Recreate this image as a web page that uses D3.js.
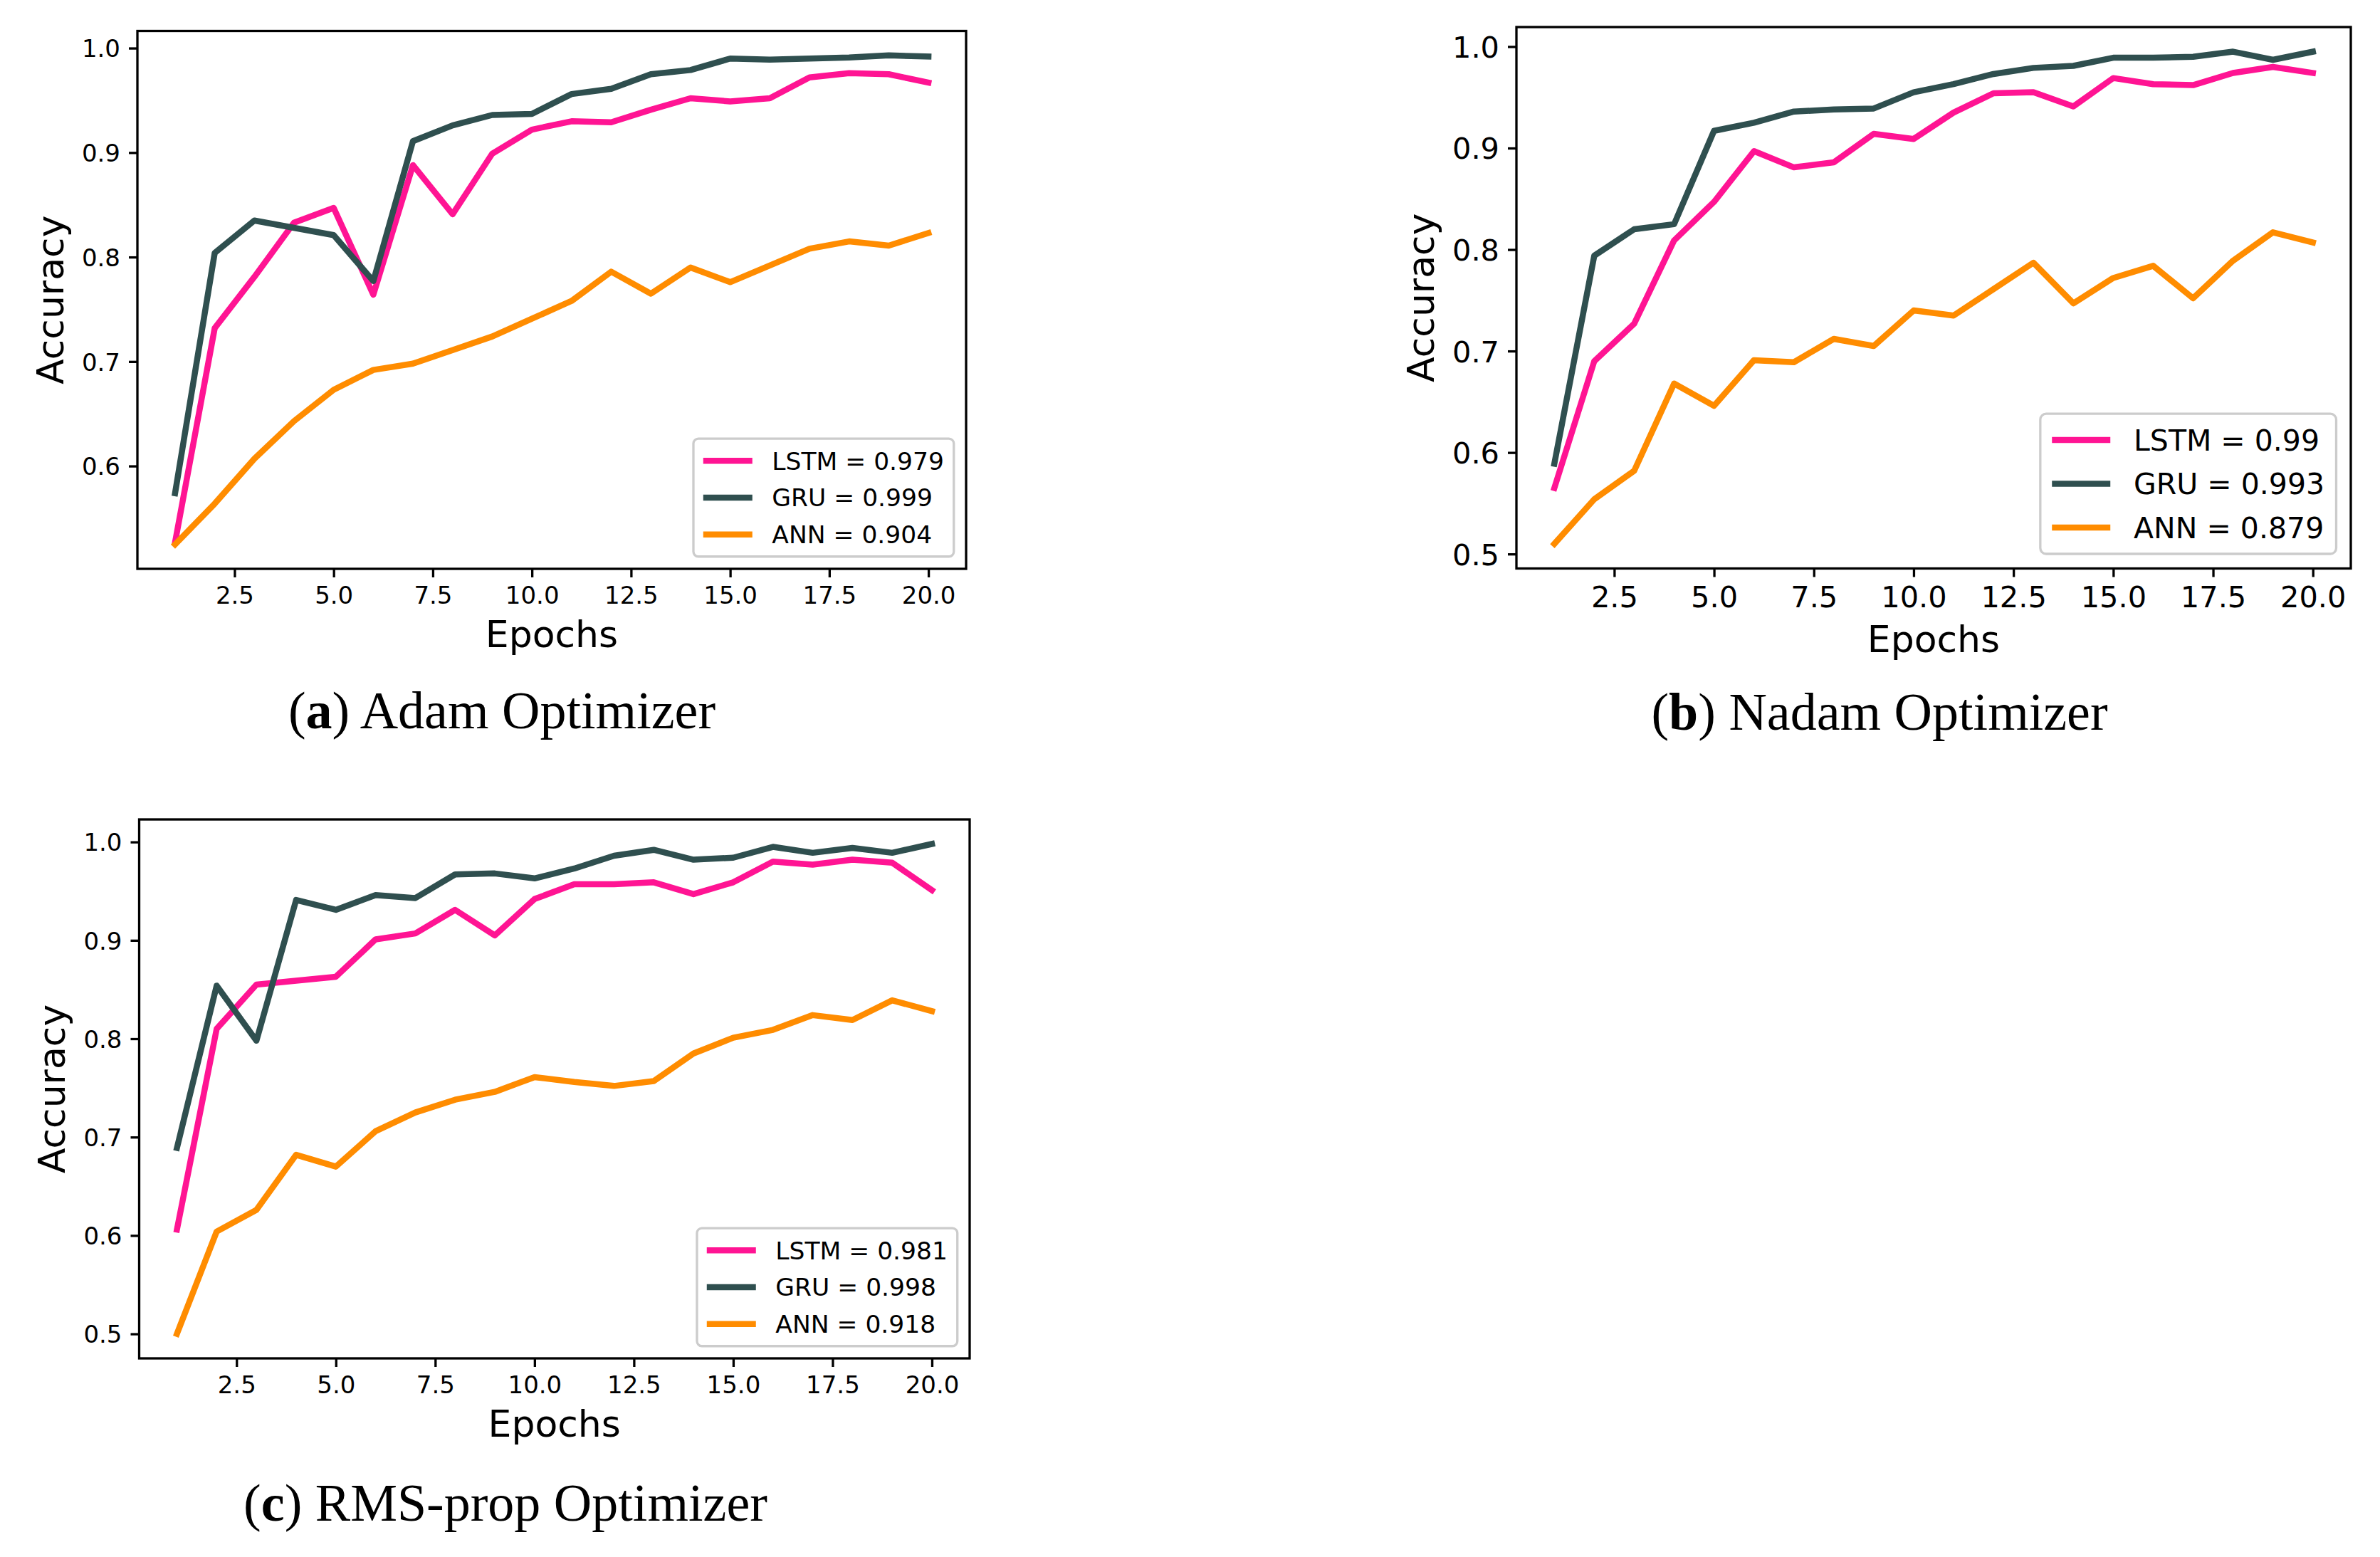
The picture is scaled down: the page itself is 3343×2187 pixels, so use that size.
<!DOCTYPE html>
<html>
<head>
<meta charset="utf-8">
<script src="https://cdn.jsdelivr.net/npm/d3@7"></script>
<style>
  body { margin: 0; background: #fff; }
  svg { display: block; }
</style>
</head>
<body>
<div id="chart"></div>
<script>
// epochs on the x axis
const epochs = [1, 2, 3, 4, 5, 6, 7, 8, 9, 10, 11, 12, 13, 14, 15, 16, 17, 18, 19, 20]

// (a) Adam
const adamLSTM = [0.527, 0.732, 0.781, 0.833, 0.847, 0.764, 0.888, 0.841, 0.899, 0.922, 0.930, 0.929, 0.941, 0.952, 0.949, 0.952, 0.972, 0.976, 0.975, 0.967]
const adamGRU  = [0.574, 0.804, 0.835, 0.828, 0.821, 0.777, 0.911, 0.926, 0.936, 0.937, 0.956, 0.961, 0.975, 0.979, 0.990, 0.989, 0.990, 0.991, 0.993, 0.992]
const adamANN  = [0.525, 0.564, 0.607, 0.643, 0.673, 0.692, 0.698, 0.711, 0.724, 0.741, 0.758, 0.786, 0.765, 0.790, 0.776, 0.792, 0.808, 0.815, 0.811, 0.823]
const adamLegend = ['LSTM = 0.979', 'GRU = 0.999', 'ANN = 0.904']

// (b) Nadam
const nadamLSTM = [0.565, 0.690, 0.727, 0.809, 0.847, 0.897, 0.881, 0.886, 0.914, 0.909, 0.935, 0.954, 0.955, 0.941, 0.969, 0.963, 0.962, 0.974, 0.980, 0.974]
const nadamGRU  = [0.589, 0.794, 0.820, 0.825, 0.917, 0.925, 0.936, 0.938, 0.939, 0.955, 0.963, 0.973, 0.979, 0.981, 0.989, 0.989, 0.990, 0.995, 0.987, 0.995]
const nadamANN  = [0.510, 0.554, 0.582, 0.668, 0.646, 0.691, 0.689, 0.712, 0.705, 0.740, 0.735, 0.761, 0.787, 0.747, 0.772, 0.784, 0.752, 0.789, 0.817, 0.807]
const nadamLegend = ['LSTM = 0.99', 'GRU = 0.993', 'ANN = 0.879']

// (c) RMS-prop
const rmsLSTM = [0.606, 0.810, 0.855, 0.859, 0.863, 0.901, 0.907, 0.931, 0.905, 0.942, 0.957, 0.957, 0.959, 0.947, 0.959, 0.980, 0.977, 0.982, 0.979, 0.951]
const rmsGRU  = [0.689, 0.854, 0.798, 0.941, 0.931, 0.946, 0.943, 0.967, 0.968, 0.963, 0.973, 0.986, 0.992, 0.982, 0.984, 0.995, 0.989, 0.994, 0.989, 0.998]
const rmsANN  = [0.500, 0.604, 0.626, 0.682, 0.670, 0.706, 0.725, 0.738, 0.746, 0.761, 0.756, 0.752, 0.757, 0.785, 0.801, 0.809, 0.824, 0.819, 0.839, 0.828]
const rmsLegend = ['LSTM = 0.981', 'GRU = 0.998', 'ANN = 0.918']

const xTickValues = [2.5, 5.0, 7.5, 10.0, 12.5, 15.0, 17.5, 20.0]
const yTickValues = [0.5, 0.6, 0.7, 0.8, 0.9, 1.0]

const colors = ['#ff1493', '#2f4f4f', '#ff8c00']   // LSTM, GRU, ANN
const sans = 'DejaVu Sans'
const serif = 'Liberation Serif'

const W = 3343, H = 2187
const svg = d3.select('#chart').append('svg')
  .attr('width', W)
  .attr('height', H)

svg.append('rect').attr('width', W).attr('height', H).attr('fill', '#fff')

const panels = [
  { series: [adamLSTM, adamGRU, adamANN], legend: adamLegend, letter: 'a', title: ' Adam Optimizer',
    box: { left: 193, right: 1357, top: 43.5, bottom: 799 }, tickFs: 34, legendFs: 34.5, capX: 705, capY: 1023 },
  { series: [nadamLSTM, nadamGRU, nadamANN], legend: nadamLegend, letter: 'b', title: ' Nadam Optimizer',
    box: { left: 2130, right: 3302, top: 38, bottom: 798.5 }, tickFs: 41.5, legendFs: 41, capX: 2640, capY: 1025 },
  { series: [rmsLSTM, rmsGRU, rmsANN], legend: rmsLegend, letter: 'c', title: ' RMS-prop Optimizer',
    box: { left: 195.5, right: 1362, top: 1151, bottom: 1908 }, tickFs: 34, legendFs: 34.5, capX: 710, capY: 2136 }
]

const lineW = 8.5, frameW = 3.3, tickLen = 12, tickPad = 12, labelFs = 52

panels.forEach(p => {
  const b = p.box
  const all = p.series.flat()
  const lo = d3.min(all), hi = d3.max(all)
  const ypad = (hi - lo) * 0.05
  const xpad = (d3.max(epochs) - d3.min(epochs)) * 0.05

  const x = d3.scaleLinear()
    .domain([d3.min(epochs) - xpad, d3.max(epochs) + xpad])
    .range([b.left, b.right])
  const y = d3.scaleLinear()
    .domain([lo - ypad, hi + ypad])
    .range([b.bottom, b.top])

  const g = svg.append('g')

  // lines
  const line = d3.line().x((d, i) => x(epochs[i])).y(d => y(d))
  p.series.forEach((s, k) => {
    g.append('path')
      .attr('d', line(s))
      .attr('fill', 'none')
      .attr('stroke', colors[k])
      .attr('stroke-width', lineW)
      .attr('stroke-linejoin', 'round')
      .attr('stroke-linecap', 'square')
  })

  // frame
  g.append('rect')
    .attr('x', b.left).attr('y', b.top)
    .attr('width', b.right - b.left).attr('height', b.bottom - b.top)
    .attr('fill', 'none').attr('stroke', '#000').attr('stroke-width', frameW)

  // x axis
  const xAxis = d3.axisBottom(x).tickValues(xTickValues)
    .tickFormat(d3.format('.1f')).tickSize(tickLen).tickPadding(tickPad)
  const gx = g.append('g').attr('transform', `translate(0,${b.bottom})`).call(xAxis)
  gx.select('.domain').remove()
  gx.selectAll('.tick line').attr('stroke', '#000').attr('stroke-width', frameW)
  gx.selectAll('.tick text')
    .attr('font-family', sans).attr('font-size', p.tickFs).attr('fill', '#000')
    .attr('dy', null).attr('y', tickLen + tickPad + 0.73 * p.tickFs)

  // y axis
  const [d0, d1] = y.domain()
  const yAxis = d3.axisLeft(y).tickValues(yTickValues.filter(v => v >= d0 && v <= d1))
    .tickFormat(d3.format('.1f')).tickSize(tickLen).tickPadding(tickPad)
  const gy = g.append('g').attr('transform', `translate(${b.left},0)`).call(yAxis)
  gy.select('.domain').remove()
  gy.selectAll('.tick line').attr('stroke', '#000').attr('stroke-width', frameW)
  gy.selectAll('.tick text')
    .attr('font-family', sans).attr('font-size', p.tickFs).attr('fill', '#000')
    .attr('dy', '0.36em')

  const yLabelsLeft = gy.node().getBBox().x + b.left

  // axis titles
  g.append('text')
    .attr('x', (b.left + b.right) / 2)
    .attr('y', b.bottom + tickLen + tickPad + p.tickFs + 14 + 0.73 * labelFs)
    .attr('text-anchor', 'middle')
    .attr('font-family', sans).attr('font-size', labelFs)
    .text('Epochs')

  const ylx = yLabelsLeft - 14 - 0.236 * labelFs
  const yly = (b.top + b.bottom) / 2
  g.append('text')
    .attr('transform', `translate(${ylx},${yly}) rotate(-90)`)
    .attr('text-anchor', 'middle')
    .attr('font-family', sans).attr('font-size', labelFs)
    .text('Accuracy')

  // legend, lower right
  const fs = p.legendFs
  const lg = g.append('g')
  const boxH = fs * (0.4 * 2 + 3 + 0.5 * 2)
  const boxBottom = b.bottom - 0.5 * fs
  const boxTop = boxBottom - boxH
  const texts = p.legend.map((t, k) => lg.append('text')
    .attr('font-family', sans).attr('font-size', fs)
    .attr('y', boxTop + fs * (0.4 + 0.5 + 1.5 * k) + 0.36 * fs)
    .text(t))
  const tw = d3.max(texts, t => t.node().getComputedTextLength())
  const boxW = fs * (0.4 + 2 + 0.8 + 0.4) + tw
  const boxRight = b.right - 0.5 * fs
  const boxLeft = boxRight - boxW
  texts.forEach(t => t.attr('x', boxLeft + fs * (0.4 + 2 + 0.8)))
  p.legend.forEach((t, k) => {
    const cy = boxTop + fs * (0.4 + 0.5 + 1.5 * k)
    lg.append('line')
      .attr('x1', boxLeft + fs * 0.4 + lineW / 2).attr('x2', boxLeft + fs * 2.4 - lineW / 2)
      .attr('y1', cy).attr('y2', cy)
      .attr('stroke', colors[k]).attr('stroke-width', lineW).attr('stroke-linecap', 'square')
  })
  lg.insert('rect', ':first-child')
    .attr('x', boxLeft).attr('y', boxTop)
    .attr('width', boxW).attr('height', boxH)
    .attr('rx', 0.2 * fs).attr('ry', 0.2 * fs)
    .attr('fill', '#fff').attr('fill-opacity', 0.8)
    .attr('stroke', '#cccccc').attr('stroke-width', frameW)

  // caption
  const cap = svg.append('text')
    .attr('x', p.capX).attr('y', p.capY)
    .attr('text-anchor', 'middle')
    .attr('font-family', serif).attr('font-size', 74)
  cap.append('tspan').text('(')
  cap.append('tspan').attr('font-weight', 'bold').text(p.letter)
  cap.append('tspan').text(')' + p.title)
})
</script>
</body>
</html>
